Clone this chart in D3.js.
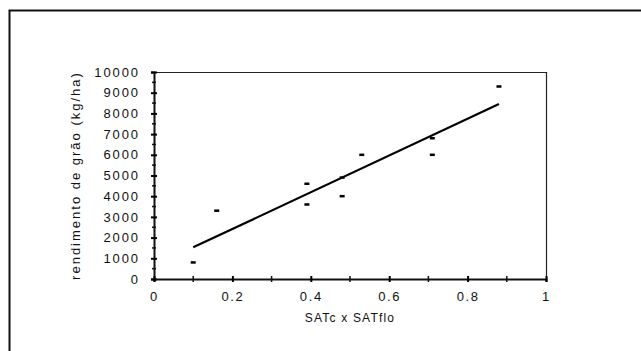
<!DOCTYPE html>
<html>
<head>
<meta charset="utf-8">
<script src="https://cdn.jsdelivr.net/npm/d3@7"></script>
<style>
  html, body { margin: 0; padding: 0; background: #fff; }
  svg { display: block; }
  text { font-family: "Liberation Sans", Arial, sans-serif; fill: #111; }
</style>
</head>
<body>
<svg id="chart" width="641" height="351"></svg>
<script>
// ---- data ----
const satProduct = [0.10, 0.16, 0.39, 0.39, 0.48, 0.48, 0.53, 0.71, 0.71, 0.88];
const grainYield = [800, 3300, 4600, 3600, 4000, 4900, 6000, 6800, 6000, 9300];
const xTickValues = [0, 0.2, 0.4, 0.6, 0.8, 1];
const xTickLabels = ["0", "0.2", "0.4", "0.6", "0.8", "1"];
const yTickValues = [0, 1000, 2000, 3000, 4000, 5000, 6000, 7000, 8000, 9000, 10000];
const xTitle = "SATc x SATflo";
const yTitle = "rendimento de grão (kg/ha)";

const svg = d3.select("#chart");

// outer frame (left + top edges of the scanned box)
svg.append("path")
  .attr("d", "M9.5,351 V10.5 H641")
  .attr("fill", "none").attr("stroke", "#111").attr("stroke-width", 2);

const m = { left: 154, right: 546, top: 72, bottom: 279 };
const x = d3.scaleLinear().domain([0, 1]).range([m.left, m.right]);
const y = d3.scaleLinear().domain([0, 10000]).range([m.bottom, m.top]);

// plot frame: top and right thin
svg.append("path")
  .attr("d", `M${m.left},${m.top + 0.5} H${m.right + 0.5} V${m.bottom}`)
  .attr("fill", "none").attr("stroke", "#222").attr("stroke-width", 1.2);

// y axis
const yAxis = d3.axisLeft(y).tickValues(yTickValues).tickSize(3).tickPadding(11)
  .tickFormat(d3.format("d"));
const gy = svg.append("g").attr("transform", `translate(${m.left},0)`).call(yAxis);
gy.select(".domain").attr("stroke-width", 2).attr("stroke", "#111");
gy.selectAll(".tick line").attr("x2", 3).attr("x1", -3).attr("stroke-width", 2);
gy.selectAll(".tick text").attr("font-size", 13).attr("letter-spacing", 1.9)
  .attr("font-family", "Liberation Sans, Arial, sans-serif").attr("fill", "#111");
// minor y ticks
const yMinor = d3.range(500, 10000, 1000);
svg.append("g").selectAll("line").data(yMinor).join("line")
  .attr("x1", m.left - 2).attr("x2", m.left + 2)
  .attr("y1", d => y(d)).attr("y2", d => y(d))
  .attr("stroke", "#111").attr("stroke-width", 1.5);

// x axis
const xAxis = d3.axisBottom(x).tickValues(xTickValues).tickSize(3).tickPadding(10)
  .tickFormat((d, i) => xTickLabels[i]);
const gx = svg.append("g").attr("transform", `translate(0,${m.bottom})`).call(xAxis);
gx.select(".domain").attr("stroke-width", 2).attr("stroke", "#111");
gx.selectAll(".tick line").attr("y1", -3).attr("y2", 3).attr("stroke-width", 2);
gx.selectAll(".tick text").attr("font-size", 13).attr("letter-spacing", 1.6)
  .attr("font-family", "Liberation Sans, Arial, sans-serif").attr("fill", "#111");
// minor x ticks
const xMinor = [0.1, 0.3, 0.5, 0.7, 0.9];
svg.append("g").selectAll("line").data(xMinor).join("line")
  .attr("x1", d => x(d)).attr("x2", d => x(d))
  .attr("y1", m.bottom - 3).attr("y2", m.bottom + 3)
  .attr("stroke", "#111").attr("stroke-width", 1.5);

// regression line (least squares on the data)
const n = satProduct.length;
const mx = d3.mean(satProduct), my = d3.mean(grainYield);
let sxy = 0, sxx = 0;
for (let i = 0; i < n; i++) {
  sxy += (satProduct[i] - mx) * (grainYield[i] - my);
  sxx += (satProduct[i] - mx) ** 2;
}
const slope = sxy / sxx, icpt = my - slope * mx;
const [x0, x1] = d3.extent(satProduct);
svg.append("line")
  .attr("x1", x(x0)).attr("y1", y(icpt + slope * x0))
  .attr("x2", x(x1)).attr("y2", y(icpt + slope * x1))
  .attr("stroke", "#000").attr("stroke-width", 2.2);

// markers (small dashes)
svg.append("g").selectAll("rect").data(satProduct.map((v, i) => [v, grainYield[i]]))
  .join("rect")
  .attr("x", d => x(d[0]) - 2.5).attr("y", d => y(d[1]) - 1.25)
  .attr("width", 5).attr("height", 2.5).attr("fill", "#000");

// titles
svg.append("text")
  .attr("x", (m.left + m.right) / 2).attr("y", 322)
  .attr("text-anchor", "middle").attr("font-size", 12).attr("letter-spacing", 1.2)
  .text(xTitle);
svg.append("text")
  .attr("transform", `translate(80,${(m.top + m.bottom) / 2}) rotate(-90)`)
  .attr("text-anchor", "middle").attr("font-size", 13).attr("letter-spacing", 2)
  .text(yTitle);
</script>
</body>
</html>
